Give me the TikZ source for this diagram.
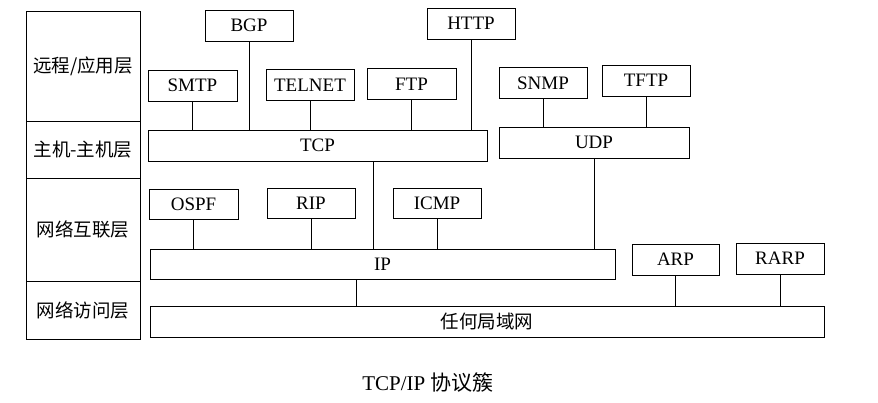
\documentclass[tikz,border=0pt]{standalone}
\usepackage{fontspec}
\setmainfont{Liberation Serif}
\newfontfamily\cjk{Noto Sans CJK SC}
\usetikzlibrary{calc}
\tikzset{
    proto/.style={draw=black, line width=1pt, inner sep=0pt, minimum height=31pt,
        font=\fontsize{19}{21}\selectfont},
    layer/.style={draw=black, line width=1pt, inner sep=0pt, minimum width=114pt,
        font=\cjk\fontsize{18.5}{21}\selectfont},
    link/.style={draw=black, line width=1pt},
}
\begin{document}
\begin{tikzpicture}[x=1pt,y=-1pt]
		\useasboundingbox (0,0) rectangle (878,402) ;
		% The layer column on the left
		\node[layer, minimum height=110pt] (app) at (83,66) {远程/应用层};
		\node[layer, minimum height=57pt] (host) at (83,149.5) {主机-主机层};
		\node[layer, minimum height=103pt] (inet) at (83,229.5) {网络互联层};
		\node[layer, minimum height=58pt] (netacc) at (83,310) {网络访问层};
		% The application protocols
		\node[proto, minimum width=88pt] (bgp) at (249,25.5) {BGP};
		\node[proto, minimum width=88pt] (http) at (471,23.5) {HTTP};
		\node[proto, minimum width=89pt] (smtp) at (192.5,85.5) {SMTP};
		\node[proto, minimum width=88pt] (telnet) at (310,85) {TELNET};
		\node[proto, minimum width=89pt] (ftp) at (411.5,84) {FTP};
		\node[proto, minimum width=88pt] (snmp) at (543,83) {SNMP};
		\node[proto, minimum width=88pt] (tftp) at (646,80.5) {TFTP};
		% The transport bars
		\node[proto, minimum width=339pt] (tcp) at (317.5,145.5) {TCP};
		\node[proto, minimum width=190pt] (udp) at (594,142.5) {UDP};
		% The internet layer
		\node[proto, minimum width=89pt, minimum height=30pt] (ospf) at (193.5,204) {OSPF};
		\node[proto, minimum width=88pt, minimum height=30pt] (rip) at (311,203.5) {RIP};
		\node[proto, minimum width=88pt, minimum height=30pt] (icmp) at (437,203) {ICMP};
		\node[proto, minimum width=465pt, minimum height=30pt] (ip) at (382.5,264) {IP};
		\node[proto, minimum width=87pt] (arp) at (675.5,259.5) {ARP};
		\node[proto, minimum width=88pt] (rarp) at (780,258.5) {RARP};
		% The network access bar
		\node[proto, minimum width=674pt, font=\cjk\fontsize{18.5}{21}\selectfont] (lan) at (487,321.5) {任何局域网};
		% Application protocols down to TCP and UDP
		\draw[link]  (bgp) -- (bgp |- tcp.north) ;
		\draw[link]  (smtp) -- (smtp |- tcp.north) ;
		\draw[link]  (telnet) -- (telnet |- tcp.north) ;
		\draw[link]  (ftp) -- (ftp |- tcp.north) ;
		\draw[link]  (http) -- (http |- tcp.north) ;
		\draw[link]  (snmp) -- (snmp |- udp.north) ;
		\draw[link]  (tftp) -- (tftp |- udp.north) ;
		% TCP and UDP down to IP
		\draw[link]  ([xshift=55.5pt]tcp.south) -- ([xshift=55.5pt]tcp.south |- ip.north) ;
		\draw[link]  (udp) -- (udp |- ip.north) ;
		% Routing and control protocols down to IP
		\draw[link]  (ospf) -- (ospf |- ip.north) ;
		\draw[link]  (rip) -- (rip |- ip.north) ;
		\draw[link]  (icmp) -- (icmp |- ip.north) ;
		% IP, ARP and RARP down to the network
		\draw[link]  ([xshift=-26.5pt]ip.south) -- ([xshift=-26.5pt]ip.south |- lan.north) ;
		\draw[link]  (arp) -- (arp |- lan.north) ;
		\draw[link]  (rarp) -- (rarp |- lan.north) ;
		% Caption
		\node[font=\fontsize{21}{24}\selectfont] (caption) at (428,383) {TCP/IP {\cjk 协议簇}};
	\end{tikzpicture}
\end{document}
